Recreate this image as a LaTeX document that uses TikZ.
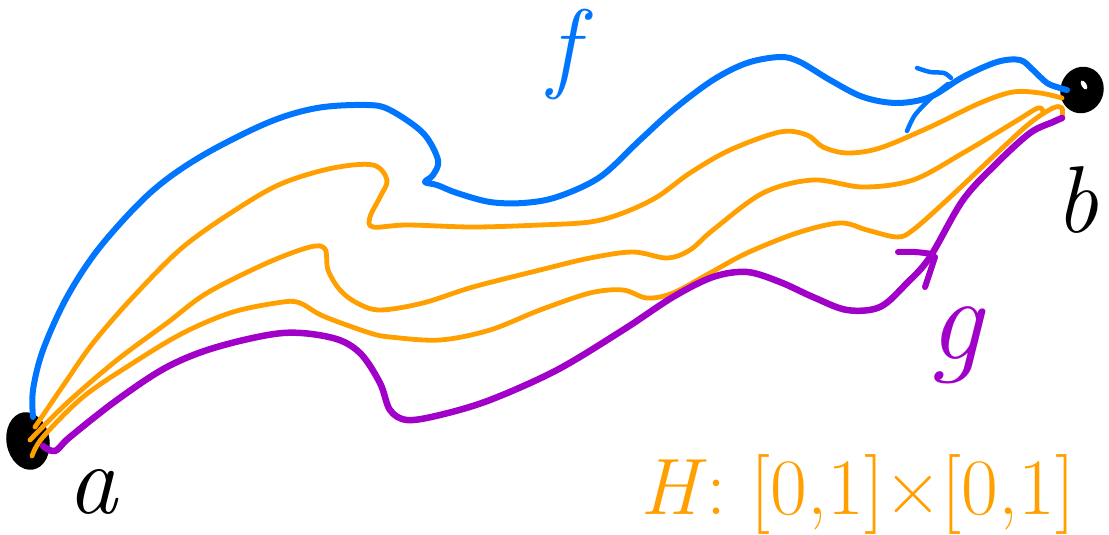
\documentclass[tikz,border=0pt]{standalone}
\usetikzlibrary{shapes.geometric}
\definecolor{fblue}{RGB}{0,118,255}
\definecolor{horange}{RGB}{255,160,0}
\definecolor{gpurple}{RGB}{160,0,200}
\tikzset{
  fpath/.style={draw=fblue,line width=6pt,line cap=round,line join=round},
  hpath/.style={draw=horange,line width=4.8pt,line cap=round,line join=round},
  gpath/.style={draw=gpurple,line width=6.5pt,line cap=round,line join=round},
  barbf/.style={draw=fblue,line width=4.5pt,line cap=round},
  barbg/.style={draw=gpurple,line width=6pt,line cap=round},
  blob/.style={ellipse,fill=black,inner sep=0pt},
  lbl/.style={inner sep=0pt},
}
\begin{document}
\begin{tikzpicture}[x=1pt,y=-1pt]
\useasboundingbox (0,0) rectangle (1109,535);
\clip (0,0) rectangle (1109,535);
\fill[white] (0,0) rectangle (1109,535);
% end points
\node[blob,minimum width=43pt,minimum height=58pt,rotate=10] (a) at (28,441) {};
\node[blob,minimum width=43pt,minimum height=47pt,rotate=-20] (b) at (1082,90) {};
\fill[white,rotate around={30:(1084,85)}] (1084,85) ellipse [x radius=2.5, y radius=5];
% path f (blue)
\draw[fpath] plot[smooth,tension=0.55] coordinates {
 (33,417) (33,390) (43,350) (67,297) (100,247) (150,193) (200,157) (267,123)
 (317,108) (367,105) (390,110) (423,133) (438,160) (433,175) (425,182)
 (437,185) (457,193) (490,202) (523,203) (557,197) (600,177) (640,140)
 (673,110) (713,80) (747,63) (780,57) (800,62) (830,80) (863,97) (897,103)
 (930,97) (963,77) (997,62) (1020,60) (1033,70) (1047,83) (1060,88) (1067,90)};
\draw[barbf] plot[smooth,tension=0.5] coordinates {(917,68) (930,72) (944,73) (951,78)};
\draw[barbf] plot[smooth,tension=0.5] coordinates {(907,131) (915,115) (932,97) (948,84)};
% homotopy strands (orange)
\draw[hpath] plot[smooth,tension=0.55] coordinates {
 (35,427) (67,380) (93,343) (133,297) (183,247) (240,207) (283,183) (333,168)
 (373,165) (387,180) (380,197) (370,217) (373,227) (407,225) (473,227)
 (540,225) (590,222) (623,213) (657,197) (690,173) (730,150) (780,132)
 (807,135) (823,147) (847,153) (880,148) (930,127) (980,103) (1013,92)
 (1040,93) (1062,98)};
\draw[hpath] plot[smooth,tension=0.55] coordinates {
 (30,440) (67,403) (117,360) (167,323) (207,293) (267,263) (310,247) (325,249)
 (328,270) (340,290) (357,303) (380,310) (423,303) (473,287) (540,270)
 (590,258) (633,252) (667,258) (690,250) (713,230) (763,193) (813,180)
 (863,187) (913,180) (963,153) (1013,123) (1038,108) (1043,112)};
\draw[hpath] plot[smooth,tension=0.55] coordinates {
 (32,456) (43,437) (83,397) (133,363) (183,333) (233,312) (283,302) (300,303)
 (317,313) (333,320) (370,333) (390,337) (440,340) (490,330) (540,310)
 (590,293) (623,290) (647,298) (673,293) (710,273) (747,253) (797,233)
 (840,223) (867,230) (897,237) (913,230) (947,200) (997,153) (1030,123)
 (1053,108) (1062,108) (1062,118)};
% path g (purple)
\draw[gpath] plot[smooth,tension=0.55] coordinates {
 (43,446) (55,451) (70,437) (117,400) (167,367) (217,347) (283,333) (333,338)
 (360,353) (380,383) (390,410) (407,420) (440,415) (490,400) (557,370)
 (623,330) (673,297) (713,277) (747,272) (780,282) (813,297) (847,310)
 (880,307) (907,283) (930,257) (963,200) (997,163) (1030,133) (1053,122)
 (1062,118)};
\draw[barbg] plot[smooth,tension=0.5] coordinates {(898,252) (915,252) (933,254)};
\draw[barbg] plot[smooth,tension=0.5] coordinates {(925,287) (930,272) (935,257)};
% labels
\node[lbl,text=black,font=\fontsize{100}{100}\selectfont\itshape] (la) at (92,492) {a};
\node[lbl,text=black,font=\fontsize{95}{95}\selectfont\itshape,anchor=west] (lb) at (1055,200) {b};
\node[lbl,text=fblue,font=\fontsize{100}{100}\selectfont\itshape] (lf) at (563,55) {f};
\node[lbl,text=gpurple,font=\fontsize{120}{120}\selectfont\itshape] (lg) at (955,345) {g};
\node[anchor=base west,inner sep=0pt,text=horange,font=\fontsize{80}{80}\selectfont] (lh) at (640,514) {\textit{H}: [0,1]×[0,1]};
\end{tikzpicture}
\end{document}
